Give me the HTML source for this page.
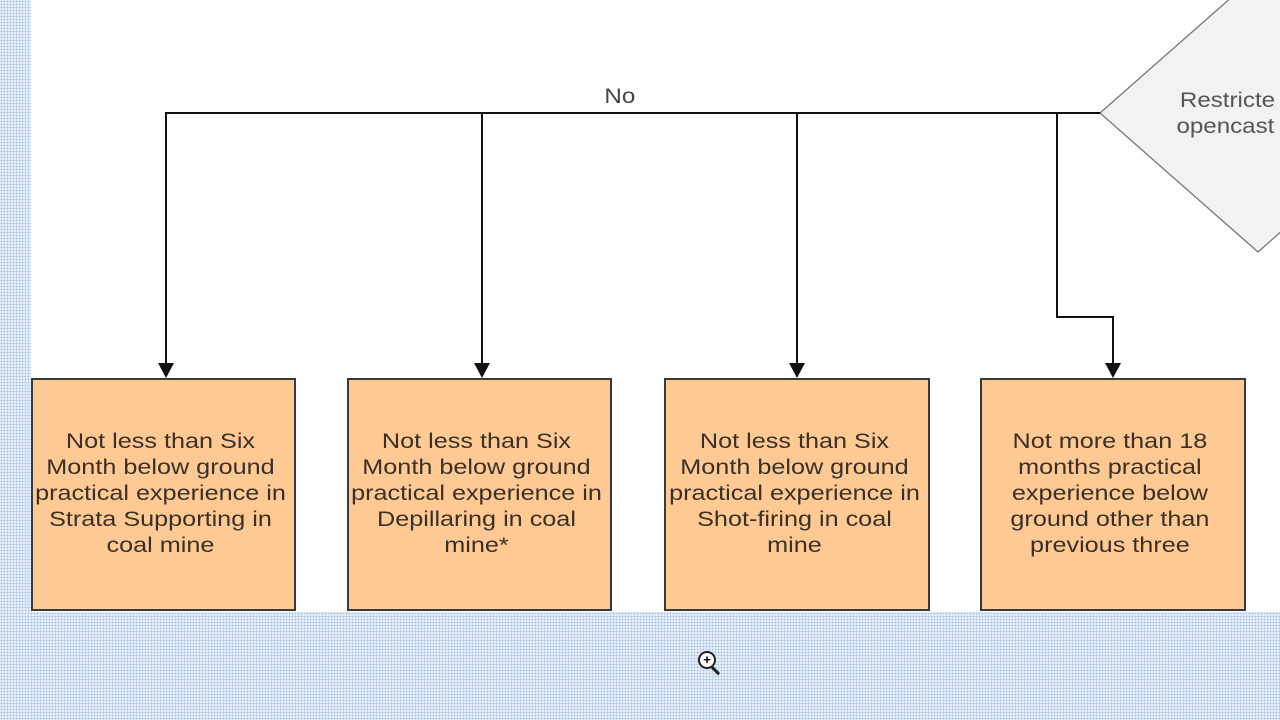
<!DOCTYPE html>
<html><head><style>
html,body{margin:0;padding:0;width:1280px;height:720px;overflow:hidden;background:#fff;}
.bg{position:absolute;background-color:#eef3fa;background-image:radial-gradient(#a9c4e4 45%,transparent 55%);background-size:3px 3px;}
.box{position:absolute;background:#ffc994;border:2px solid #3a3a3a;box-sizing:border-box;display:flex;align-items:center;justify-content:center;text-align:center;font:21px/26px "Liberation Sans",sans-serif;color:#3a3028;}
.box span{display:inline-block;transform:translate(-3px,-1px) scaleX(1.2);white-space:nowrap;}
</style></head><body>
<div class="bg" style="left:0;top:0;width:31px;height:720px"></div>
<div class="bg" style="left:0;top:612px;width:1280px;height:108px"></div>
<svg width="1280" height="720" style="position:absolute;left:0;top:0">
<polygon points="1100,113 1258,-26 1416,113 1258,252" fill="#f2f2f2" stroke="#777" stroke-width="1.3"/>
<g font-family="Liberation Sans" font-size="21" fill="#555" transform="scale(1.15,1)">
<text x="1026" y="107">Restricte</text>
<text x="1023" y="133">opencast</text>
</g>
<g stroke="#111" stroke-width="2" fill="none">
<polyline points="1100,113 166,113 166,366"/>
<line x1="482" y1="113" x2="482" y2="366"/>
<line x1="797" y1="113" x2="797" y2="366"/>
<polyline points="1057,113 1057,317 1113,317 1113,366"/>
</g>
<g fill="#111">
<polygon points="158,363 174,363 166,378"/>
<polygon points="474,363 490,363 482,378"/>
<polygon points="789,363 805,363 797,378"/>
<polygon points="1105,363 1121,363 1113,378"/>
</g>
<text x="539" y="103" text-anchor="middle" font-family="Liberation Sans" font-size="21" fill="#444" transform="scale(1.15,1)">No</text>
</svg>
<div class="box" style="left:31px;top:378px;width:265px;height:233px"><span>Not less than Six<br>Month below ground<br>practical experience in<br>Strata Supporting in<br>coal mine</span></div>
<div class="box" style="left:347px;top:378px;width:265px;height:233px"><span>Not less than Six<br>Month below ground<br>practical experience in<br>Depillaring in coal<br>mine*</span></div>
<div class="box" style="left:664px;top:378px;width:266px;height:233px"><span>Not less than Six<br>Month below ground<br>practical experience in<br>Shot-firing in coal<br>mine</span></div>
<div class="box" style="left:980px;top:378px;width:266px;height:233px"><span>Not more than 18<br>months practical<br>experience below<br>ground other than<br>previous three</span></div>
<div style="position:absolute;left:698px;top:651px;width:14px;height:14px;border:2px solid #222;border-radius:50%;background:#fff;font:bold 13px/14px 'Liberation Sans';text-align:center">+</div>
<div style="position:absolute;left:713px;top:666px;width:10px;height:3px;background:#222;transform:rotate(45deg);transform-origin:0 0"></div>
</body></html>
